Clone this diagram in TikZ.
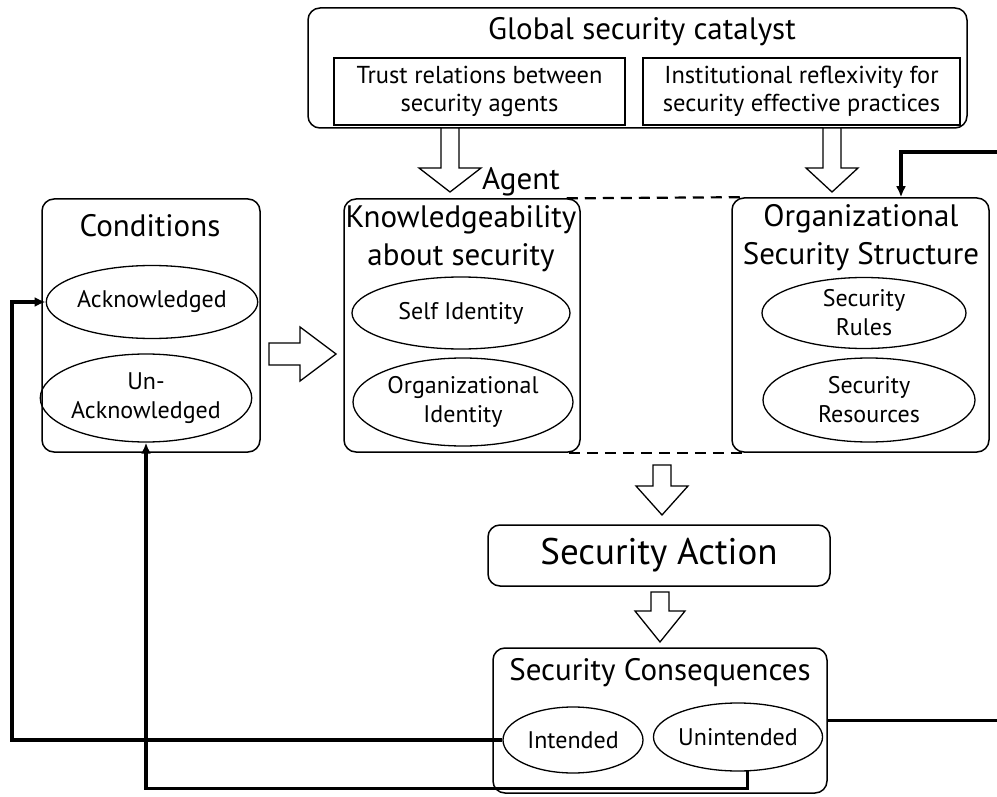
\documentclass[tikz,border=0pt]{standalone}
\usepackage{fontspec}
\setmainfont{PT Sans}
\usetikzlibrary{arrows.meta,shapes.geometric,calc}

% hollow block arrow pointing down: x, top, head start, tip, half shaft, half head
\newcommand\blockdown[6]{%
  \draw[blockarrow] ({#1-#5},#2) -- ({#1-#5},#3) -- ({#1-#6},#3) -- (#1,#4)
    -- ({#1+#6},#3) -- ({#1+#5},#3) -- ({#1+#5},#2) -- cycle;}

\begin{document}
\begin{tikzpicture}[x=1pt,y=-1pt,
  box/.style={draw, line width=1.5pt, rounded corners=12pt, inner sep=0pt},
  subbox/.style={draw, line width=1.7pt, inner sep=0pt, align=center,
    font=\fontsize{24.5}{28}\selectfont},
  oval/.style={draw, ellipse, line width=1.3pt, inner sep=0pt, align=center,
    font=\fontsize{24}{29}\selectfont},
  heading/.style={align=center, inner sep=0pt, font=\fontsize{31}{38}\selectfont},
  blockarrow/.style={draw, line width=1.3pt, fill=white, line join=miter},
  feedback/.style={line width=3.2pt, -{Latex[length=11pt,width=10pt]}},
  frame/.style={line width=2.2pt, dash pattern=on 11pt off 7pt}]

\useasboundingbox (0,0) rectangle (997,797);

% global security catalyst
\node[box, minimum width=659pt, minimum height=120pt] (global) at (637.5,68) {};
\node[heading] (globaltitle) at (642,32) {Global security catalyst};
\node[subbox, minimum width=291pt, minimum height=67pt] (trust) at (479.5,91.5)
  {Trust relations between\\security agents};
\node[subbox, minimum width=317pt, minimum height=67pt] (reflex) at (801.5,91.5)
  {Institutional reflexivity for\\security effective practices};

% conditions
\node[box, minimum width=218pt, minimum height=253pt] (cond) at (151,325.5) {};
\node[heading] (condtitle) at (150,226) {Conditions};
\node[oval, minimum width=190pt, minimum height=73pt] (ack) at (152,302) {Acknowledged};
\node[oval, minimum width=202pt, minimum height=88pt] (unack) at (146,398) {Un-\\Acknowledged};

% agent knowledgeability
\node[box, minimum width=236pt, minimum height=253pt] (know) at (462,325.5) {};
\node[heading] (knowtitle) at (461,239) {Knowledgeability\\about security};
\node[oval, minimum width=218pt, minimum height=72pt] (self) at (461,313) {Self Identity};
\node[oval, minimum width=220pt, minimum height=88pt] (orgid) at (463,402) {Organizational\\Identity};
\node[heading, anchor=west] (agent) at (482,182) {Agent};

% organizational structure
\node[box, minimum width=257pt, minimum height=254pt] (org) at (860.5,325) {};
\node[heading] (orgtitle) at (861,238) {Organizational\\Security Structure};
\node[oval, minimum width=204pt, minimum height=71pt] (rules) at (864,313) {Security\\Rules};
\node[oval, minimum width=212pt, minimum height=84pt] (res) at (869,400) {Security\\Resources};

% action and consequences
\node[box, minimum width=342pt, minimum height=61pt, font=\fontsize{37}{44}\selectfont]
  (action) at (659,555.5) {Security Action};
\node[box, minimum width=334pt, minimum height=145pt] (cons) at (660,720.5) {};
\node[heading] (constitle) at (660,673) {Security Consequences};
\node[oval, minimum width=140pt, minimum height=66pt] (intended) at (573,740) {Intended};
\node[oval, minimum width=154pt, minimum height=68pt] (unintended) at (738,737) {Unintended};

% dashed frame joining agent and structure
\draw[frame, shorten <=-14pt, shorten >=-12pt] (know.north east) -- (org.north west);
\draw[frame, shorten <=-12pt, shorten >=-14pt] (know.south east) -- (org.south west);

% hollow block arrows
\blockdown{450}{128}{168}{192}{9}{31}
\blockdown{832}{128}{168}{192}{9}{26}
\blockdown{662}{465}{486}{515}{9}{26}
\blockdown{660}{592}{611}{642}{9}{25}
\draw[blockarrow] (269,343) -- (300,343) -- (300,327) -- (336,354)
  -- (300,381) -- (300,365) -- (269,365) -- cycle;

% feedback connectors
\coordinate (leftrail) at (12,0);
\coordinate (rightrail) at (1010,152);
\coordinate (orgentry) at (901,152);
\draw[feedback] (intended.west) -- (intended.west -| leftrail) |- (ack.west);
\draw[feedback] (unintended.-75) -- ++(0,17) -| (unack.south);
\draw[feedback] (cons.east) -- (cons.east -| rightrail) |- (orgentry) -- (orgentry |- org.north);

\end{tikzpicture}
\end{document}
